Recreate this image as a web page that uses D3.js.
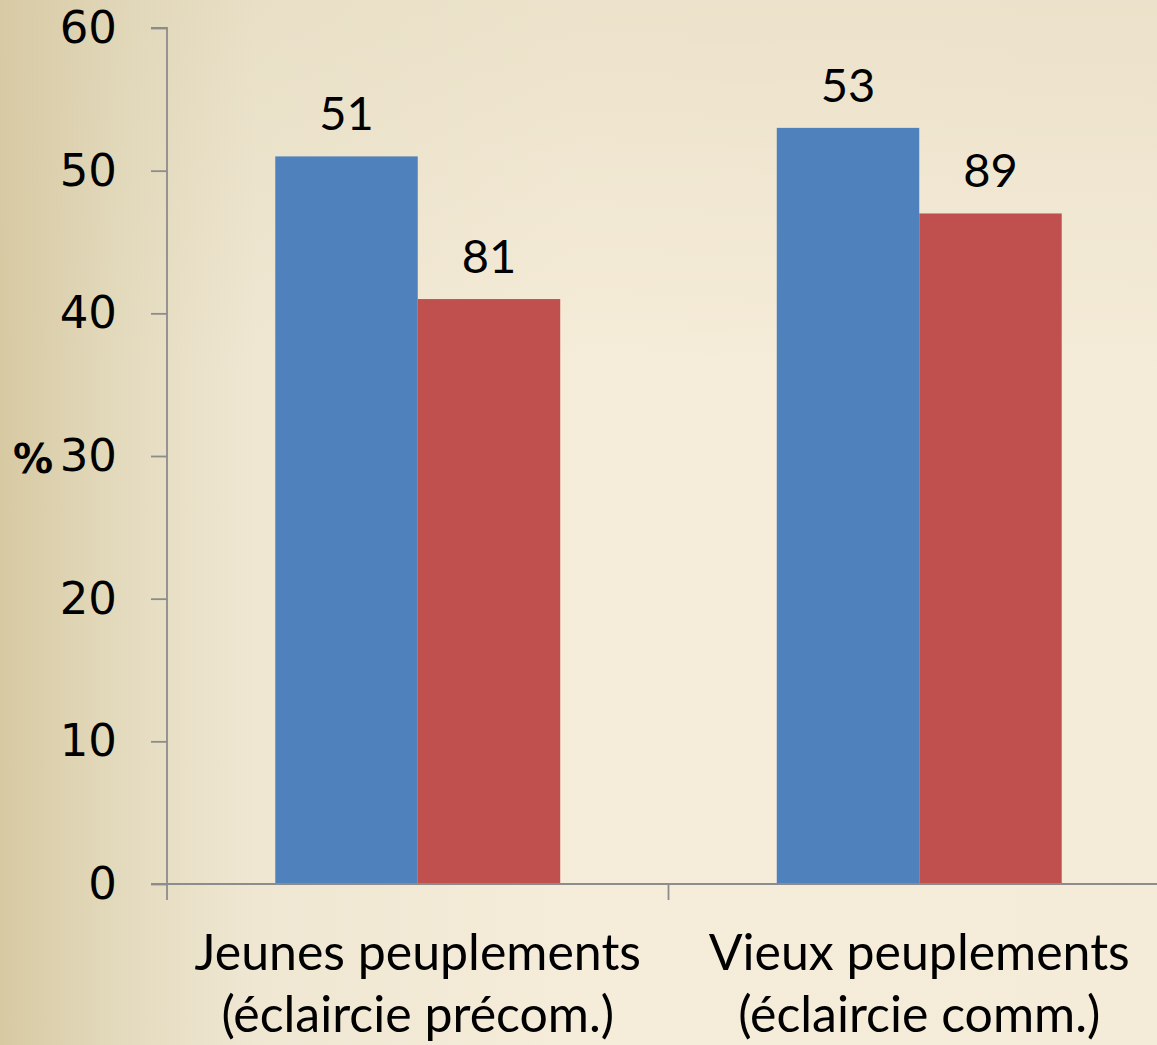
<!DOCTYPE html>
<html>
<head>
<meta charset="utf-8">
<script src="https://cdn.jsdelivr.net/npm/d3@7"></script>
<style>
  html, body { margin: 0; padding: 0; }
  svg { display: block; }
</style>
</head>
<body>
<svg width="1157" height="1045"></svg>
<script>
// data
var categories = ["Jeunes peuplements|(éclaircie précom.)", "Vieux peuplements|(éclaircie comm.)"];
var series = ["s1", "s2"];
var blueValues = [51, 53];
var redValues = [41, 47];
var barLabels = [["51", "81"], ["53", "89"]];
var yTicks = [0, 10, 20, 30, 40, 50, 60];
var colors = ["#4F81BD", "#C0504D"];

var svg = d3.select("svg"),
    width = +svg.attr("width"),
    height = +svg.attr("height"),
    margin = {left: 167, right: -12, top: 28, bottom: 161};

// background
var defs = svg.append("defs");
var bg = defs.append("linearGradient").attr("id", "bg").attr("x1", 0).attr("x2", 1).attr("y1", 0).attr("y2", 0);
bg.append("stop").attr("offset", "0").attr("stop-color", "#d7c9a2");
bg.append("stop").attr("offset", "0.1").attr("stop-color", "#e3dabd");
bg.append("stop").attr("offset", "0.22").attr("stop-color", "#efe7d2");
bg.append("stop").attr("offset", "0.5").attr("stop-color", "#f5ecd9");
bg.append("stop").attr("offset", "1").attr("stop-color", "#f4ebd8");
var topShade = defs.append("linearGradient").attr("id", "topshade").attr("x1", 0).attr("x2", 0).attr("y1", 0).attr("y2", 1);
topShade.append("stop").attr("offset", "0").attr("stop-color", "#d9ccaa").attr("stop-opacity", 0.3);
topShade.append("stop").attr("offset", "0.35").attr("stop-color", "#d9ccaa").attr("stop-opacity", 0);
svg.append("rect").attr("width", width).attr("height", height).attr("fill", "url(#bg)");
svg.append("rect").attr("width", width).attr("height", height).attr("fill", "url(#topshade)");

var plotH = height - margin.top - margin.bottom;

var x0 = d3.scaleBand()
    .domain(categories)
    .range([margin.left, margin.left + 2 * 501.5])
    .paddingInner(0)
    .paddingOuter(0);

var x1 = d3.scaleBand()
    .domain(series)
    .range([0, x0.bandwidth()])
    .paddingInner(0)
    .paddingOuter(0.76);

var y = d3.scaleLinear()
    .domain([0, 60])
    .range([margin.top + plotH, margin.top]);

// bars
var rows = categories.map(function (c, i) {
    return [
        {cat: c, s: "s1", v: blueValues[i], label: barLabels[i][0], color: colors[0]},
        {cat: c, s: "s2", v: redValues[i], label: barLabels[i][1], color: colors[1]}
    ];
});

var groups = svg.append("g").selectAll("g")
    .data(rows)
    .enter().append("g")
    .attr("transform", function (d, i) { return "translate(" + x0(categories[i]) + ",0)"; });

groups.selectAll("rect")
    .data(function (d) { return d; })
    .enter().append("rect")
    .attr("x", function (d) { return x1(d.s); })
    .attr("y", function (d) { return y(d.v); })
    .attr("width", x1.bandwidth())
    .attr("height", function (d) { return y(0) - y(d.v); })
    .attr("fill", function (d) { return d.color; });

groups.selectAll("text")
    .data(function (d) { return d; })
    .enter().append("text")
    .attr("x", function (d) { return x1(d.s) + x1.bandwidth() / 2; })
    .attr("y", function (d) { return y(d.v) - 26; })
    .attr("text-anchor", "middle")
    .style("font-family", "Lato, 'Open Sans', sans-serif")
    .style("font-size", "47px")
    .attr("fill", "#000")
    .text(function (d) { return d.label; });

// y axis
var yAxis = svg.append("g")
    .attr("transform", "translate(" + margin.left + ",0)")
    .call(d3.axisLeft(y).tickValues(yTicks).tickSize(16).tickPadding(34));
yAxis.select(".domain").attr("stroke", "#8c8c8c").attr("stroke-width", 1.8);
yAxis.selectAll(".tick line").attr("stroke", "#8c8c8c").attr("stroke-width", 1.8);
yAxis.selectAll(".tick text")
    .style("font-family", "'DejaVu Sans', sans-serif")
    .style("font-size", "45px")
    .attr("fill", "#000");
yAxis.select(".domain").attr("d", "M-16," + y(60) + "H0V" + y(0));

// x axis
var xAxis = svg.append("g")
    .attr("transform", "translate(0," + y(0) + ")");
xAxis.append("line")
    .attr("x1", margin.left - 16).attr("x2", width)
    .attr("stroke", "#8c8c8c").attr("stroke-width", 1.8);
var xTicks = [margin.left, x0(categories[1])];
xAxis.selectAll(".xt").data(xTicks).enter().append("line")
    .attr("x1", function (d) { return d; }).attr("x2", function (d) { return d; })
    .attr("y1", 0).attr("y2", 16)
    .attr("stroke", "#8c8c8c").attr("stroke-width", 1.8);

var catText = svg.append("g").selectAll("text")
    .data(categories)
    .enter().append("text")
    .attr("x", function (d) { return x0(d) + x0.bandwidth() / 2; })
    .attr("y", 970)
    .attr("text-anchor", "middle")
    .style("font-family", "Lato, 'Open Sans', sans-serif")
    .style("font-size", "50px")
    .attr("fill", "#000");
catText.each(function (d) {
    var parts = d.split("|");
    var t = d3.select(this);
    parts.forEach(function (p, i) {
        t.append("tspan")
            .attr("x", x0(d) + x0.bandwidth() / 2)
            .attr("dy", i === 0 ? 0 : 62)
            .text(p);
    });
});

// axis title
svg.append("text")
    .attr("x", 33)
    .attr("y", 473)
    .attr("text-anchor", "middle")
    .style("font-family", "'DejaVu Sans', sans-serif")
    .style("font-weight", "bold")
    .style("font-size", "40px")
    .text("%");
</script>
</body>
</html>
